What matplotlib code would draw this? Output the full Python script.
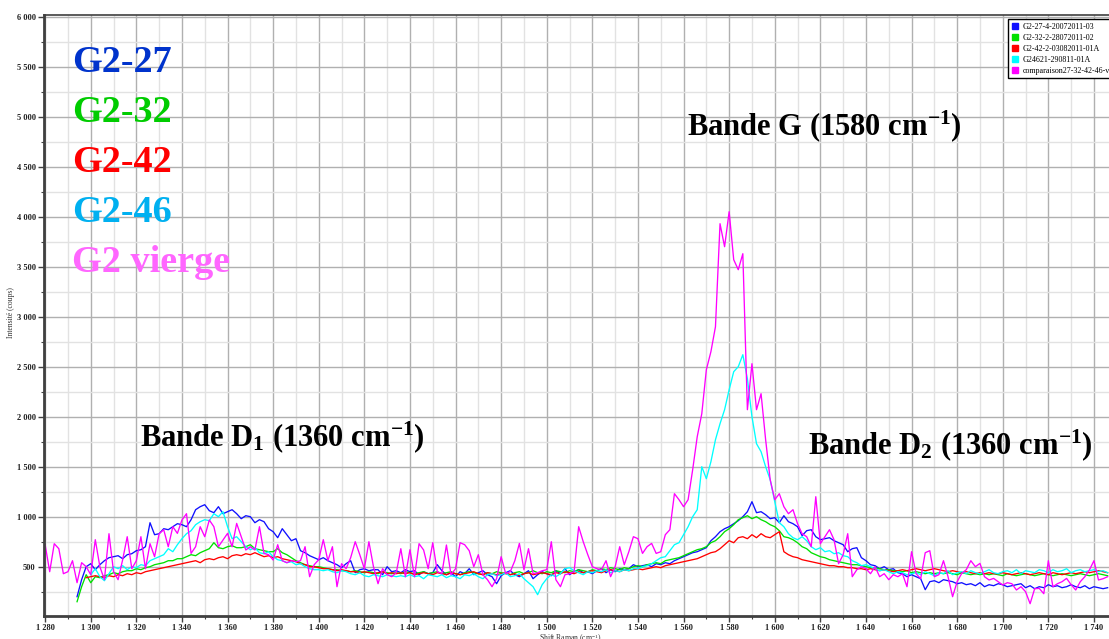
#!/usr/bin/env python3
# -*- coding: utf-8 -*-
"""Raman spectra comparison G2-27 / G2-32 / G2-42 / G2-46 / G2 vierge."""

import numpy as np
import matplotlib
matplotlib.use('Agg')
import matplotlib.pyplot as plt
from matplotlib.ticker import MultipleLocator, FuncFormatter
from matplotlib.lines import Line2D

plt.rcParams['font.family'] = ['Liberation Serif', 'DejaVu Serif']
plt.rcParams['mathtext.default'] = 'regular'

step = 2.0

start_27 = 1294
g2_27 = [
    200, 370, 500, 530, 470, 520, 560, 590, 600, 610,
    580, 620, 630, 660, 670, 700, 940, 820, 830, 880,
    870, 900, 930, 920, 900, 970, 1070, 1100, 1120, 1060,
    1040, 1100, 1030, 1050, 1070, 1030, 980, 1010, 1000, 940,
    970, 950, 880, 850, 790, 880, 820, 760, 780, 660,
    640, 610, 590, 570, 590, 560, 540, 520, 490, 530,
    560, 440, 470, 480, 460, 470, 470, 420, 500, 450,
    460, 440, 470, 450, 460, 420, 450, 430, 440, 520,
    460, 420, 440, 400, 450, 430, 480, 420, 440, 460,
    420, 400, 330, 410, 440, 460, 420, 400, 430, 460,
    380, 420, 450, 430, 410, 460, 430, 480, 420, 450,
    470, 440, 450, 430, 460, 480, 440, 470, 450, 480,
    470, 480, 520, 500, 510, 520, 500, 530, 520, 540,
    530, 560, 580, 600, 620, 640, 650, 670, 690, 760,
    800, 850, 880, 900, 930, 960, 1000, 1050, 1150, 1040,
    1050, 1020, 980, 990, 940, 1010, 950, 930, 900, 810,
    860, 870, 800, 770, 780, 790, 760, 740, 720, 650,
    680, 690, 590, 560, 520, 510, 480, 500, 470, 480,
    440, 430, 400, 420, 400, 380, 270, 350, 360, 340,
    370, 360, 350, 330, 340, 320, 330, 310, 340, 300,
    320, 310, 330, 320, 300, 310, 320, 330, 290, 310,
    280, 300, 290, 320, 300, 310, 290, 300, 320, 300,
    290, 310, 280, 300, 290, 280, 290,
]

start_32 = 1294
g2_32 = [
    150, 300, 420, 340, 400, 390, 410, 420, 440, 430,
    450, 460, 460, 480, 470, 490, 500, 520, 530, 540,
    560, 560, 580, 580, 600, 620, 610, 640, 660, 680,
    740, 690, 680, 700, 710, 690, 690, 700, 720, 680,
    670, 660, 650, 650, 680, 640, 620, 590, 560, 540,
    520, 510, 500, 500, 490, 480, 470, 470, 460, 460,
    450, 460, 450, 440, 450, 440, 430, 450, 440, 430,
    440, 430, 450, 440, 430, 440, 450, 430, 440, 450,
    430, 440, 450, 430, 420, 440, 450, 440, 430, 420,
    440, 430, 450, 440, 430, 420, 440, 450, 430, 440,
    460, 440, 430, 450, 440, 460, 450, 440, 460, 450,
    470, 460, 450, 470, 460, 480, 470, 490, 480, 470,
    490, 480, 500, 510, 500, 520, 530, 540, 530, 560,
    570, 580, 590, 610, 630, 650, 670, 680, 700, 740,
    760, 800, 850, 880, 920, 970, 990, 1010, 980, 1000,
    970, 950, 920, 900, 860, 800, 790, 770, 740, 700,
    680, 640, 620, 600, 590, 570, 560, 550, 540, 530,
    520, 520, 510, 500, 490, 490, 480, 470, 470, 460,
    460, 450, 460, 440, 450, 440, 430, 440, 430, 440,
    430, 440, 430, 420, 440, 430, 420, 430, 420, 430,
    420, 430, 420, 410, 430, 420, 410, 420, 430, 420,
    410, 420, 430, 420, 410, 420, 430, 420, 410, 420,
    430, 420, 410, 420, 430, 420, 410,
]

start_42 = 1298
g2_42 = [
    390, 400, 410, 400, 390, 410, 400, 420, 410, 430,
    420, 440, 430, 450, 460, 470, 480, 490, 500, 510,
    520, 530, 540, 550, 560, 540, 570, 580, 570, 590,
    600, 580, 610, 620, 610, 630, 620, 640, 620, 600,
    610, 590, 600, 580, 570, 560, 550, 530, 520, 500,
    500, 490, 480, 480, 470, 460, 470, 460, 450, 450,
    440, 450, 440, 430, 440, 450, 430, 440, 430, 440,
    430, 440, 420, 430, 440, 430, 420, 440, 430, 420,
    440, 430, 420, 430, 440, 450, 430, 420, 440, 430,
    420, 430, 440, 420, 430, 410, 430, 440, 420, 430,
    440, 430, 420, 440, 430, 450, 440, 430, 450, 440,
    450, 460, 450, 440, 460, 470, 460, 450, 470, 460,
    470, 480, 470, 480, 490, 500, 490, 510, 520, 530,
    540, 550, 560, 570, 580, 600, 620, 640, 650, 680,
    720, 760, 740, 790, 800, 780, 820, 790, 830, 800,
    790, 820, 850, 650, 620, 600, 590, 570, 560, 550,
    540, 530, 520, 510, 510, 500, 500, 490, 490, 480,
    480, 470, 480, 470, 460, 470, 460, 450, 460, 470,
    460, 470, 480, 470, 460, 470, 480, 470, 460, 450,
    460, 450, 440, 450, 440, 430, 440, 430, 440, 430,
    430, 440, 430, 420, 430, 440, 430, 420, 430, 440,
    430, 420, 440, 430, 420, 430, 440, 430, 440, 450,
    440, 450, 460, 450, 440,
]

start_46 = 1300
g2_46 = [
    420, 480, 400, 360, 430, 500, 480, 510, 470, 500,
    490, 520, 510, 560, 580, 600, 620, 680, 650, 720,
    780, 830, 860, 920, 950, 970, 960, 1030, 1000, 1050,
    900, 780, 800, 750, 700, 670, 690, 640, 630, 650,
    600, 570, 560, 540, 550, 520, 530, 500, 480, 470,
    470, 460, 470, 450, 440, 460, 450, 430, 420, 440,
    410, 400, 420, 410, 400, 420, 410, 400, 410, 400,
    420, 400, 410, 380, 420, 410, 400, 420, 390, 410,
    400, 380, 420, 410, 430, 400, 380, 420, 430, 410,
    420, 440, 400, 410, 430, 380, 340, 300, 220, 320,
    380, 420, 400, 430, 480, 490, 460, 440, 420, 450,
    440, 460, 450, 470, 440, 460, 450, 470, 460, 480,
    480, 500, 510, 530, 560, 590, 600, 660, 720, 740,
    820, 900, 1000, 1070, 1500, 1380, 1550, 1770, 1930, 2070,
    2270, 2450, 2500, 2620, 2380, 2000, 1730, 1650, 1500, 1370,
    1150, 940, 900, 830, 790, 770, 800, 760, 700, 670,
    690, 650, 660, 630, 640, 610, 600, 560, 540, 510,
    520, 500, 480, 460, 470, 450, 430, 450, 440, 420,
    430, 440, 420, 450, 430, 410, 440, 430, 460, 420,
    440, 450, 430, 460, 440, 430, 450, 470, 440, 430,
    450, 460, 440, 470, 430, 460, 450, 440, 470, 460,
    440, 470, 450, 460, 480, 440, 460, 470, 450, 460,
    470, 450, 460, 440,
]

start_vierge = 1280
g2_vierge = [
    720, 450, 730, 680, 430, 450, 560, 340, 540, 500,
    420, 770, 500, 370, 830, 450, 370, 570, 800, 480,
    560, 800, 480, 730, 600, 830, 870, 700, 900, 833,
    967, 1030, 633, 700, 900, 800, 967, 900, 700, 767,
    833, 700, 933, 800, 667, 700, 667, 900, 633, 620,
    567, 720, 560, 540, 560, 550, 560, 700, 400, 520,
    570, 770, 560, 700, 300, 530, 480, 590, 750, 620,
    480, 750, 500, 330, 480, 420, 400, 440, 680, 400,
    670, 400, 730, 667, 480, 740, 450, 430, 717, 420,
    480, 740, 720, 660, 500, 620, 420, 370, 300, 380,
    600, 430, 450, 560, 733, 470, 680, 430, 440, 460,
    470, 750, 370, 300, 420, 430, 450, 900, 750, 620,
    500, 480, 470, 560, 400, 500, 700, 520, 650, 800,
    780, 633, 700, 733, 633, 650, 820, 870, 1230, 1170,
    1100, 1170, 1470, 1800, 2030, 2470, 2650, 2900, 3930, 3700,
    4050, 3570, 3470, 3630, 2070, 2530, 2070, 2230, 1770, 1370,
    1170, 1230, 1100, 1030, 1070, 930, 830, 800, 700, 1200,
    730, 800, 870, 770, 530, 620, 830, 400, 470, 500,
    480, 430, 500, 400, 430, 370, 420, 400, 430, 300,
    650, 430, 380, 640, 660, 400, 420, 560, 400, 200,
    350, 433, 470, 560, 500, 533, 400, 367, 383, 350,
    317, 340, 330, 267, 300, 250, 130, 280, 283, 230,
    560, 300, 330, 350, 383, 320, 267, 350, 400, 467,
    560, 367, 380, 400,
]

series = [
    ('G2-27-4-20072011-03', start_27, g2_27, '#1010ff'),
    ('G2-32-2-28072011-02', start_32, g2_32, '#00e000'),
    ('G2-42-2-03082011-01A', start_42, g2_42, '#ff0000'),
    ('G24621-290811-01A', start_46, g2_46, '#00ffff'),
    ('comparaison27-32-42-46-vierge', start_vierge, g2_vierge, '#ff00ff'),
]

sample_labels = ['G2-27', 'G2-32', 'G2-42', 'G2-46', 'G2 vierge']
sample_colors = ['#0033cc', '#00cc00', '#ff0000', '#00b0f0', '#ff66ff']

W, H = 1109, 639
fig = plt.figure(figsize=(W / 100, H / 100), dpi=100)
ax = fig.add_axes([44 / W, 23 / H, 1 - 44 / W, 601 / H])

for name, x0, vals, col in series:
    x = x0 + step * np.arange(len(vals))
    ax.plot(x, vals, color=col, lw=0.95)

ax.set_xlim(1279.5, 1746.6)
ax.set_ylim(7, 6017)

ax.xaxis.set_major_locator(MultipleLocator(20))
ax.xaxis.set_minor_locator(MultipleLocator(10))
ax.yaxis.set_major_locator(MultipleLocator(500))
ax.yaxis.set_minor_locator(MultipleLocator(250))

fmt = FuncFormatter(lambda v, p: f'{int(round(v)):,}'.replace(',', ' '))
ax.xaxis.set_major_formatter(fmt)
ax.yaxis.set_major_formatter(fmt)

ax.grid(which='major', color='#b0b0b0', lw=1.0)
ax.grid(which='minor', color='#e2e2e2', lw=1.0)
ax.set_axisbelow(True)

ax.tick_params(which='both', direction='out', colors='#404040', labelsize=6,
               labelcolor='#202020')
ax.tick_params(which='major', length=4, width=1)
ax.tick_params(which='minor', length=2.5, width=0.8)
ax.tick_params(axis='x', pad=1.5)
ax.tick_params(axis='y', pad=2)
for lab in ax.get_xticklabels() + ax.get_yticklabels():
    lab.set_fontweight('bold')
ax.spines['right'].set_visible(False)
ax.spines['left'].set_color('#404040')
ax.spines['left'].set_linewidth(2)
ax.spines['bottom'].set_color('#404040')
ax.spines['bottom'].set_linewidth(2)
ax.spines['top'].set_color('#404040')
ax.spines['top'].set_linewidth(1.2)

fig.text(11 / W, 1 - 313 / H, 'Intensité (coups)', rotation=90, fontsize=5.5,
         color='#303030', ha='center', va='center')
fig.text(570 / W, 1 - 632 / H, 'Shift Raman (cm$^{-1}$)', fontsize=5.5,
         color='#303030', ha='center', va='top')

# sample names on the left
for i, (lab, col) in enumerate(zip(sample_labels, sample_colors)):
    fig.text(72 / W, 1 - (63 + 50 * i) / H, lab, color=col, fontsize=27.5,
             fontweight='bold', ha='left', va='center')

# band annotations
fig.text(824 / W, 1 - 126 / H, 'Bande G (1580 cm$^{-1}$)', fontsize=22,
         fontweight='bold', ha='center', va='center')
fig.text(282 / W, 1 - 437 / H, 'Bande D$_1$ (1360 cm$^{-1}$)', fontsize=22,
         fontweight='bold', ha='center', va='center')
fig.text(950 / W, 1 - 445 / H, 'Bande D$_2$ (1360 cm$^{-1}$)', fontsize=22,
         fontweight='bold', ha='center', va='center')

handles = [Line2D([], [], ls='none', marker='s', markersize=4.5, color=c,
                  markeredgecolor=c) for _, _, _, c in series]
leg = ax.legend(handles, [s[0] for s in series], loc='upper left',
                bbox_to_anchor=(1008 / W, 1 - 19 / H),
                bbox_transform=fig.transFigure, borderaxespad=0,
                fontsize=5.8, frameon=True,
                fancybox=False, edgecolor='black', framealpha=1,
                handlelength=0.8, handletextpad=0.6, labelspacing=0.38,
                borderpad=0.45)
leg.get_frame().set_linewidth(1.0)

fig.savefig('out.png', dpi=100)
